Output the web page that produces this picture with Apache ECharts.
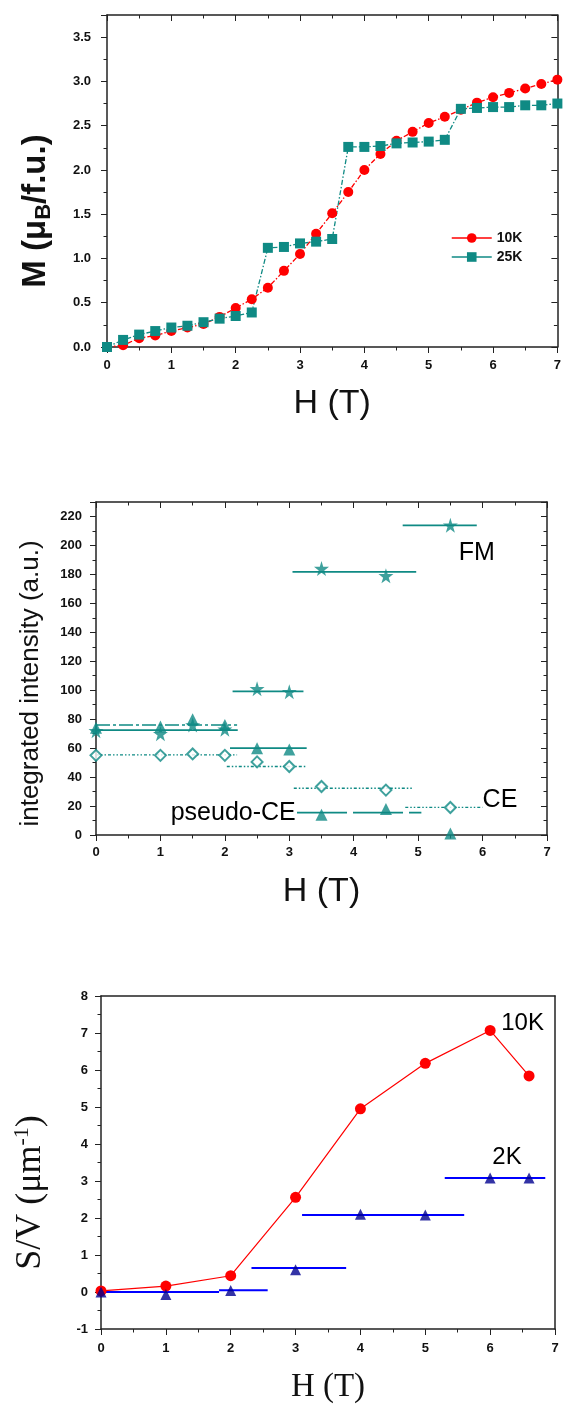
<!DOCTYPE html>
<html>
<head>
<meta charset="utf-8">
<script src="https://cdn.jsdelivr.net/npm/echarts@6/dist/echarts.min.js"></script>
<style>
html,body{margin:0;padding:0;background:#fff;}
#c{width:564px;height:1409px;}
</style>
</head>
<body>
<div id="c"></div>
<script>
// ---------- Panel 1: magnetization ----------
const H1 = [0,0.25,0.5,0.75,1,1.25,1.5,1.75,2,2.25,2.5,2.75,3,3.25,3.5,3.75,4,4.25,4.5,4.75,5,5.25,5.5,5.75,6,6.25,6.5,6.75,7];
const M10K = [0,0.02,0.10,0.13,0.18,0.22,0.26,0.34,0.44,0.54,0.67,0.86,1.05,1.28,1.51,1.75,2.00,2.18,2.33,2.43,2.53,2.60,2.68,2.76,2.82,2.87,2.92,2.97,3.02];
const M25K = [0,0.08,0.14,0.18,0.22,0.24,0.28,0.32,0.35,0.39,1.12,1.13,1.17,1.19,1.22,2.26,2.26,2.27,2.30,2.31,2.32,2.34,2.69,2.70,2.71,2.71,2.73,2.73,2.75];

// ---------- Panel 2: integrated intensity ----------
const H2 = [0,1,1.5,2,2.5,3,3.5,4.5,5.5];
const I_FM = [72,70,76,73,101,99,184,179,214];
const I_PCE = [74,75,80,76,60,59,14,18,1];
const I_CE = [55,55,56,55,50.5,47.3,33.5,31,19];
// field ranges [from, to, level]
const FM_ranges = [[0,2.2,72.5],[2.12,3.22,99.2],[3.05,4.97,181.8],[4.76,5.91,213.8]];
const PCE_ranges_low = [[0,2.19,76]];
const PCE_ranges_mid = [[2.08,3.27,60]];
const PCE_ranges_high = [[3.12,5.05,15.5]];
const CE_ranges = [[0,2.19,55.4],[2.03,3.25,47.3],[3.07,4.91,32.3],[4.8,6.0,19.1]];

// ---------- Panel 3: S/V ----------
const H3 = [0,1,2,3,4,5,6,6.6];
const SV_10K = [0.03,0.16,0.44,2.56,4.95,6.18,7.07,5.84];
const SV_2K = [0.0,-0.07,0.04,0.6,2.1,2.08,3.08,3.08];
const SV2_ranges = [[0,1.82,0],[1.82,2.57,0.05],[2.32,3.78,0.65],[3.1,5.6,2.08],[5.3,6.85,3.08]];

const RED = '#ff0000';
const TEAL = '#0f8a84';
const BLUE = '#0000ff';
const NAVY = '#000090';
const STAR = 'path://M50,0 L61,35 L98,35 L68,57 L79,91 L50,70 L21,91 L32,57 L2,35 L39,35 Z';

const zip = (xs, ys) => xs.map((x, i) => [x, ys[i]]);

function rangeSeries(name, ranges, gi, color, width, type) {
  return {
    name: name, type: 'custom', xAxisIndex: gi, yAxisIndex: gi,
    data: ranges, silent: true, z: 2,
    renderItem: function (params, api) {
      const p1 = api.coord([api.value(0), api.value(2)]);
      const p2 = api.coord([api.value(1), api.value(2)]);
      return {
        type: 'line',
        shape: {x1: p1[0], y1: p1[1], x2: p2[0], y2: p2[1]},
        style: {stroke: color, lineWidth: width, lineDash: type}
      };
    },
    encode: {x: [0, 1], y: 2}
  };
}

const tickFont = {fontFamily: 'Liberation Sans, Arial', fontWeight: 'bold', fontSize: 13, color: '#111'};

function axesFor(gi, xcfg, ycfg) {
  const common = {axisLine: {show: true, onZero: false, lineStyle: {color: '#222', width: 1.5}}, splitLine: {show: false}};
  const xs = [
    Object.assign({type: 'value', gridIndex: gi, position: 'bottom', min: xcfg.min, max: xcfg.max, interval: xcfg.interval,
      axisTick: {show: true, inside: false, length: 6, lineStyle: {color: '#222'}},
      minorTick: {show: true, splitNumber: 2, length: 3.5, lineStyle: {color: '#222'}},
      axisLabel: Object.assign({margin: xcfg.labelMargin, showMinLabel: true, showMaxLabel: true}, tickFont),
      name: xcfg.name, nameLocation: 'middle', nameGap: xcfg.nameGap, nameTextStyle: xcfg.nameStyle}, common),
    Object.assign({type: 'value', gridIndex: gi, position: 'top', min: xcfg.min, max: xcfg.max, interval: xcfg.interval,
      axisTick: {show: xcfg.mirrorTicks, inside: true, length: 6, lineStyle: {color: '#222'}},
      minorTick: {show: xcfg.mirrorTicks, splitNumber: 2, length: 3.5, lineStyle: {color: '#222'}},
      axisLabel: {show: false}}, common)
  ];
  const ys = [
    Object.assign({type: 'value', gridIndex: gi, position: 'left', min: ycfg.min, max: ycfg.max, interval: ycfg.interval,
      axisTick: {show: true, inside: false, length: 6, lineStyle: {color: '#222'}},
      minorTick: {show: true, splitNumber: 2, length: 3.5, lineStyle: {color: '#222'}},
      axisLabel: Object.assign({margin: ycfg.labelMargin, formatter: ycfg.fmt, showMaxLabel: ycfg.showMax}, tickFont),
      name: ycfg.name, nameLocation: 'middle', nameGap: ycfg.nameGap, nameRotate: 90, nameTextStyle: ycfg.nameStyle}, common),
    Object.assign({type: 'value', gridIndex: gi, position: 'right', min: ycfg.min, max: ycfg.max, interval: ycfg.interval,
      axisTick: {show: ycfg.mirrorTicks, inside: true, length: 6, lineStyle: {color: '#222'}},
      minorTick: {show: ycfg.mirrorTicks, splitNumber: 2, length: 3.5, lineStyle: {color: '#222'}},
      axisLabel: {show: false}}, common)
  ];
  return {xs, ys};
}

const a1 = axesFor(0,
  {min: 0, max: 7, interval: 1, labelMargin: 12, name: 'H (T)', nameGap: 40, mirrorTicks: true,
   nameStyle: {fontFamily: 'Liberation Sans, Arial', fontSize: 34, color: '#111'}},
  {min: 0, max: 3.75, interval: 0.5, labelMargin: 16, fmt: v => (v <= 3.5 ? v.toFixed(1) : ''), showMax: false,
   name: 'M (μ{sub|B}/f.u.)', nameGap: 52, mirrorTicks: true,
   nameStyle: {fontFamily: 'Liberation Sans, Arial', fontSize: 33, fontWeight: 'bold', color: '#111', padding: [0, 60, 0, 0],
     rich: {sub: {fontFamily: 'Liberation Sans, Arial', fontSize: 22, fontWeight: 'bold', color: '#111', padding: [16, 0, 0, 0]}}}});
const a2 = axesFor(1,
  {min: 0, max: 7, interval: 1, labelMargin: 11, name: 'H (T)', nameGap: 40, mirrorTicks: true,
   nameStyle: {fontFamily: 'Liberation Sans, Arial', fontSize: 34, color: '#111'}},
  {min: 0, max: 230, interval: 20, labelMargin: 14, fmt: v => (v <= 220 ? String(v) : ''), showMax: false,
   name: 'integrated intensity (a.u.)', nameGap: 52, mirrorTicks: true,
   nameStyle: {fontFamily: 'Liberation Sans, Arial', fontSize: 26, color: '#111', padding: [0, 30, 0, 0]}});
const a3 = axesFor(2,
  {min: 0, max: 7, interval: 1, labelMargin: 13, name: 'H (T)', nameGap: 42, mirrorTicks: false,
   nameStyle: {fontFamily: 'Liberation Serif, Times New Roman', fontSize: 33, color: '#111'}},
  {min: -1, max: 8, interval: 1, labelMargin: 13, fmt: v => String(v), showMax: true,
   name: 'S/V (μm{sup|-1})', nameGap: 50, mirrorTicks: false,
   nameStyle: {fontFamily: 'Liberation Serif, Times New Roman', fontSize: 36, color: '#111', padding: [0, 60, 0, 0],
     rich: {sup: {fontFamily: 'Liberation Serif, Times New Roman', fontSize: 22, color: '#111', padding: [0, 0, 18, 0]}}}});

const chart = echarts.init(document.getElementById('c'), null, {renderer: 'canvas'});

const annot = (gi, x, y, text, font, size) => ({
  type: 'scatter', xAxisIndex: gi, yAxisIndex: gi, data: [[x, y]], symbolSize: 0, silent: true, z: 10,
  label: {show: true, position: 'inside', formatter: text, fontFamily: font, fontSize: size, color: '#000',
          textBorderWidth: 0, opacity: 1}
});

chart.setOption({
  animation: false,
  backgroundColor: '#fff',
  grid: [
    {left: 107, top: 15, width: 453, height: 332},
    {left: 96, top: 502, width: 451, height: 333},
    {left: 101, top: 996, width: 454, height: 333}
  ],
  xAxis: [].concat(a1.xs, a2.xs, a3.xs),
  yAxis: [].concat(a1.ys, a2.ys, a3.ys),
  legend: {
    data: ['10K', '25K'], orient: 'vertical', left: 446, top: 226, itemGap: 5,
    itemWidth: 40, itemHeight: 12,
    lineStyle: {type: 'solid', width: 1.5},
    textStyle: {fontFamily: 'Liberation Sans, Arial', fontWeight: 'bold', fontSize: 14, color: '#111'}
  },
  series: [
    {name: '10K', type: 'line', xAxisIndex: 0, yAxisIndex: 0, data: zip(H1, M10K),
     symbol: 'circle', symbolSize: 10, itemStyle: {color: RED},
     lineStyle: {color: RED, width: 1.3, type: [5, 2, 1.5, 2]}},
    {name: '25K', type: 'line', xAxisIndex: 0, yAxisIndex: 0, data: zip(H1, M25K),
     symbol: 'rect', symbolSize: 10, itemStyle: {color: TEAL},
     lineStyle: {color: TEAL, width: 1.3, type: [5, 2, 1.5, 2]}},
    rangeSeries('FM range', FM_ranges, 2, TEAL, 1.8, null),
    rangeSeries('pCE low', PCE_ranges_low, 2, TEAL, 1.5, [14, 3, 3, 3]),
    rangeSeries('pCE mid', PCE_ranges_mid, 2, TEAL, 1.8, null),
    rangeSeries('pCE high', PCE_ranges_high, 2, TEAL, 1.8, [50, 6]),
    rangeSeries('CE range', CE_ranges, 2, TEAL, 1.3, [3, 2, 1.5, 2, 1.5, 2]),
    {name: 'FM', type: 'scatter', xAxisIndex: 2, yAxisIndex: 2, data: zip(H2, I_FM), symbol: STAR, symbolSize: 15, itemStyle: {color: TEAL}, z: 3},
    {name: 'pseudo-CE', type: 'scatter', xAxisIndex: 2, yAxisIndex: 2, data: zip(H2, I_PCE), symbol: 'triangle', symbolSize: 12, itemStyle: {color: TEAL}, z: 3},
    {name: 'CE', type: 'scatter', xAxisIndex: 2, yAxisIndex: 2, data: zip(H2, I_CE), symbol: 'emptyDiamond', symbolSize: 11, itemStyle: {color: TEAL, borderColor: TEAL, borderWidth: 1.5}, z: 3},
    annot(2, 5.91, 195, 'FM', 'Liberation Sans, Arial', 25),
    annot(2, 6.27, 24, 'CE', 'Liberation Sans, Arial', 25),
    annot(2, 2.13, 15, 'pseudo-CE', 'Liberation Sans, Arial', 25),
    rangeSeries('2K range', SV2_ranges, 4, BLUE, 2, null),
    {name: '10K S/V', type: 'line', xAxisIndex: 4, yAxisIndex: 4, data: zip(H3, SV_10K),
     symbol: 'circle', symbolSize: 11, itemStyle: {color: RED}, lineStyle: {color: RED, width: 1.2}, z: 3},
    {name: '2K S/V', type: 'scatter', xAxisIndex: 4, yAxisIndex: 4, data: zip(H3, SV_2K),
     symbol: 'triangle', symbolSize: 11, itemStyle: {color: NAVY}, z: 4},
    annot(4, 6.5, 7.27, '10K', 'Liberation Sans, Arial', 24),
    annot(4, 6.26, 3.64, '2K', 'Liberation Sans, Arial', 24)
  ]
});
</script>
</body>
</html>
